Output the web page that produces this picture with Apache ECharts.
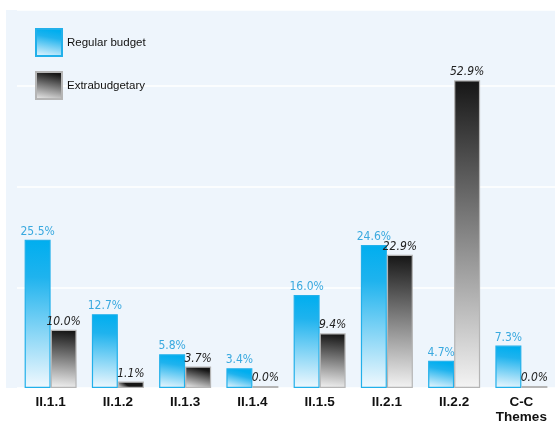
<!DOCTYPE html>
<html>
<head>
<meta charset="utf-8">
<script src="https://cdn.jsdelivr.net/npm/echarts@6/dist/echarts.min.js"></script>
<style>
html, body { margin: 0; padding: 0; background: #fff; }
#main { width: 555px; height: 425px; }
</style>
</head>
<body>
<div id="main"></div>
<script>
const categories = ["II.1.1", "II.1.2", "II.1.3", "II.1.4", "II.1.5", "II.2.1", "II.2.2", "C-C\nThemes"];
const regularBudget = [25.5, 12.7, 5.8, 3.4, 16.0, 24.6, 4.7, 7.3];
const extrabudgetary = [10.0, 1.1, 3.7, 0.0, 9.4, 22.9, 52.9, 0.0];

const chart = echarts.init(document.getElementById("main"));

const blueFill = new echarts.graphic.LinearGradient(0.2, 0, 0, 1, [
    { offset: 0, color: "#00aeef" },
    { offset: 0.25, color: "#1fb3ee" },
    { offset: 1, color: "#f2f9fe" }
]);
const greyFill = new echarts.graphic.LinearGradient(0.2, 0, 0, 1, [
    { offset: 0, color: "#161616" },
    { offset: 1, color: "#f4f4f4" }
]);
const labelFont = "'DejaVu Sans Condensed', 'Liberation Sans Narrow', sans-serif";

const option = {
    animation: false,
    graphic: [{
        type: "rect",
        z: -10,
        shape: { x: 6, y: 10, width: 549, height: 378 },
        style: { fill: "#eef5fc" }
    }],
    legend: {
        orient: "vertical",
        left: 35,
        top: 28,
        padding: 0,
        itemWidth: 26,
        itemHeight: 27,
        itemGap: 14,
        icon: "rect",
        textStyle: { fontFamily: "Liberation Sans, Arial, sans-serif", fontSize: 11.5, color: "#111" },
        data: ["Regular budget", "Extrabudgetary"]
    },
    grid: { left: 17, right: 0, top: 10, bottom: 37, containLabel: false, outerBoundsMode: "none" },
    xAxis: {
        type: "category",
        data: categories,
        axisLine: { show: false },
        axisTick: { show: false },
        axisLabel: {
            interval: 0,
            margin: 7,
            fontFamily: "Liberation Sans, Arial, sans-serif",
            fontWeight: "bold",
            fontSize: 13.5,
            color: "#111",
            lineHeight: 15
        }
    },
    yAxis: {
        type: "value",
        min: 0,
        max: 65,
        interval: 17.3,
        axisLabel: { show: false },
        axisLine: { show: false },
        axisTick: { show: false },
        splitLine: { lineStyle: { color: "#ffffff", width: 1.5 } }
    },
    series: [
        {
            name: "Regular budget",
            type: "bar",
            data: regularBudget,
            barWidth: 26,
            barGap: "0%",
            itemStyle: { color: blueFill, borderColor: "#22b0ea", borderWidth: 1.2 },
            label: {
                show: true,
                position: "top",
                distance: 2,
                formatter: p => p.value.toFixed(1) + "%",
                color: "#3aa9df",
                fontFamily: labelFont,
                fontSize: 12
            }
        },
        {
            name: "Extrabudgetary",
            type: "bar",
            data: extrabudgetary,
            barWidth: 26,
            barMinHeight: 2,
            itemStyle: { color: greyFill, borderColor: "#b5b5b5", borderWidth: 1.2 },
            label: {
                show: true,
                position: "top",
                distance: 2,
                formatter: p => p.value.toFixed(1) + "%",
                color: "#222",
                fontStyle: "italic",
                fontFamily: labelFont,
                fontSize: 12
            }
        }
    ]
};

chart.setOption(option);
</script>
</body>
</html>
